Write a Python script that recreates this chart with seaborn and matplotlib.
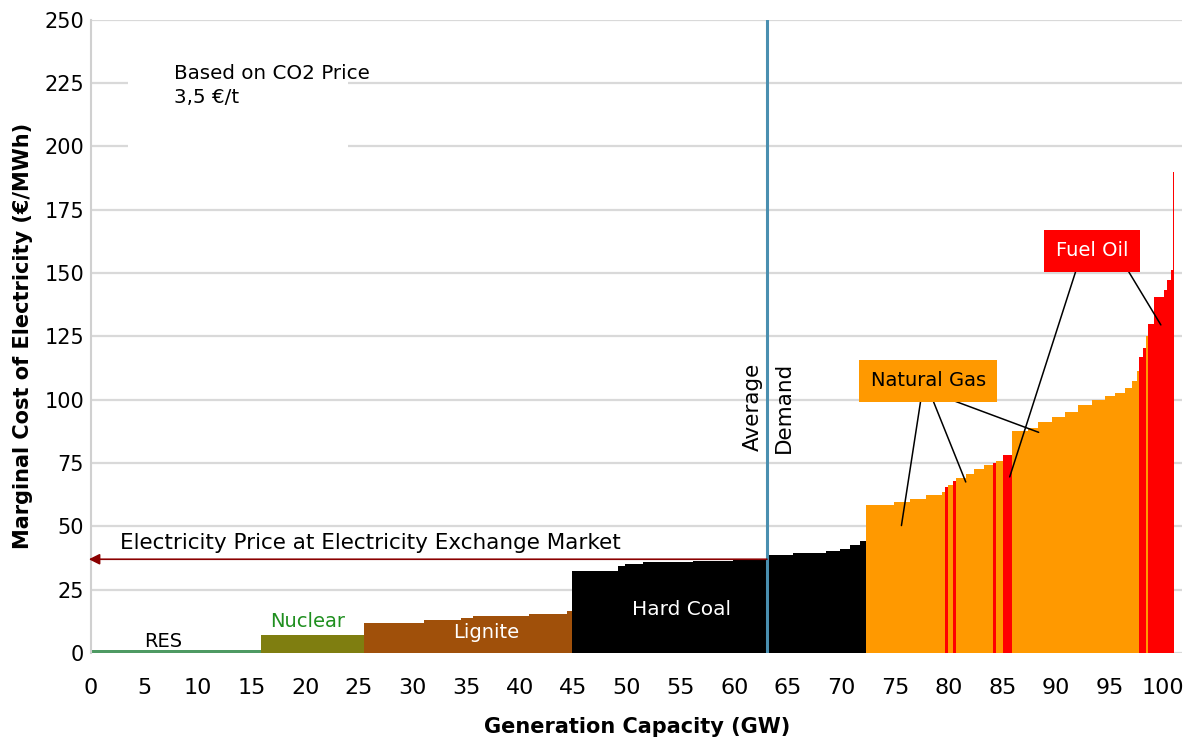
import matplotlib
matplotlib.use("Agg")
import matplotlib.pyplot as plt
from matplotlib.patches import Rectangle
import seaborn as sns
import pandas as pd

# merit order blocks: right edge of each block (GW), marginal cost (EUR/MWh), fuel
block_end = [
    15.9,
    25.5,
    31.1, 34.5, 35.6, 40.9, 44.4, 44.9,
    49.2, 49.8, 51.5, 56.2, 59.9, 63.05, 65.5, 68.6, 69.9, 70.8, 71.7, 72.3,
    74.9, 76.4, 77.9, 79.4, 79.7, 79.9, 80.4, 80.7, 81.6, 82.4, 83.3, 84.1,
    84.4, 85.05, 85.9, 87.4, 88.3, 89.6, 90.9, 92.1, 93.4, 94.6, 95.5, 96.5,
    97.1, 97.6, 97.8, 98.1, 98.4, 98.6, 99.2, 100.1, 100.4, 100.7, 100.9, 101.02,
]
block_cost = [
    1.0,
    7.2,
    12.0, 12.9, 13.7, 14.6, 15.3, 16.6,
    32.2, 34.3, 35.0, 35.8, 36.5, 37.0, 38.6, 39.6, 40.3, 41.2, 42.8, 44.3,
    58.5, 59.5, 60.8, 62.2, 63.5, 65.5, 66.5, 68.0, 69.0, 70.5, 72.5, 74.2,
    75.0, 75.8, 78.0, 87.5, 89.0, 91.2, 93.2, 95.3, 98.0, 100.0, 101.4, 102.7,
    104.7, 107.4, 111.4, 116.7, 120.5, 125.0, 130.0, 140.5, 143.2, 147.2, 151.2, 190.0,
]
block_fuel = (
    ["RES"]
    + ["Nuclear"]
    + ["Lignite"] * 6
    + ["Hard Coal"] * 12
    + ["Gas", "Gas", "Gas", "Gas", "Gas", "Oil", "Gas", "Oil", "Gas", "Gas", "Gas", "Gas",
       "Oil", "Gas", "Oil", "Gas", "Gas", "Gas", "Gas", "Gas", "Gas", "Gas", "Gas", "Gas",
       "Gas", "Gas", "Gas", "Oil", "Oil", "Gas", "Oil", "Oil", "Oil", "Oil", "Oil", "Oil"]
)

average_demand = 63.05
exchange_price = 37.0

fuel_colors = {
    "RES": "#4e9a63",
    "Nuclear": "#7f7e10",
    "Lignite": "#a0500a",
    "Hard Coal": "#000000",
    "Gas": "#ff9900",
    "Oil": "#ff0000",
}

edges = [0.0] + block_end
mids = [(a + b) / 2 for a, b in zip(edges[:-1], edges[1:])]
df = pd.DataFrame({"capacity": mids, "cost": block_cost, "fuel": block_fuel})

sns.set_style("white")
plt.rcParams["font.family"] = ["DejaVu Sans"]
plt.rcParams["text.color"] = "black"
plt.rcParams["axes.labelcolor"] = "black"
plt.rcParams["xtick.labelcolor"] = "black"
plt.rcParams["ytick.labelcolor"] = "black"

fig = plt.figure(figsize=(11.94, 7.39), dpi=100)
ax = fig.add_axes([0.0762, 0.1164, 0.914, 0.857])

ax.set_axisbelow(True)
ax.yaxis.grid(True, color="#d9d9d9", linewidth=1.6)
ax.xaxis.grid(False)

sns.histplot(
    data=df, x="capacity", weights="cost", hue="fuel", bins=edges,
    hue_order=list(fuel_colors), palette=fuel_colors, multiple="layer",
    element="step", fill=True, alpha=1, linewidth=0, legend=False, ax=ax,
)

# white patch behind the CO2 note (hides gridlines there)
ax.add_patch(Rectangle((3.45, 188), 20.5, 46, facecolor="white", edgecolor="none", zorder=1.5))

ax.axvline(average_demand, color="#4a8fb0", linewidth=2.2, zorder=4)
ax.annotate("", xy=(-0.2, exchange_price), xytext=(average_demand, exchange_price),
            arrowprops=dict(arrowstyle="-|>", color="#8b0000", lw=1.2, mutation_scale=16,
                            shrinkA=0, shrinkB=0),
            annotation_clip=False, zorder=5)

fs = 14
ax.text(2.7, 43.5, "Electricity Price at Electricity Exchange Market", fontsize=15.5, va="center", ha="left")
ax.text(7.7, 224, "Based on CO2 Price\n3,5 €/t", fontsize=14.3, va="center", ha="left", linespacing=1.3)
ax.text(6.7, 4.7, "RES", fontsize=fs, ha="center", va="center")
ax.text(20.2, 12.6, "Nuclear", fontsize=fs, ha="center", va="center", color="#1f8f1f")
ax.text(36.9, 7.9, "Lignite", fontsize=fs, ha="center", va="center", color="white")
ax.text(55.1, 17, "Hard Coal", fontsize=14.5, ha="center", va="center", color="white")
ax.text(61.7, 97, "Average", fontsize=15.5, ha="center", va="center", rotation=90)
ax.text(64.6, 97, "Demand", fontsize=15.5, ha="center", va="center", rotation=90)

ax.text(78.1, 107.4, "Natural Gas", fontsize=fs, ha="center", va="center", zorder=6,
        bbox=dict(boxstyle="square,pad=0.6", facecolor="#ff9900", edgecolor="none"))
ax.text(93.4, 158.8, "Fuel Oil", fontsize=fs, ha="center", va="center", color="white", zorder=6,
        bbox=dict(boxstyle="square,pad=0.6", facecolor="#ff0000", edgecolor="none"))

leader = dict(arrowstyle="-", color="black", lw=1.1, shrinkA=0, shrinkB=0)
for start, end in [((77.4, 99.7), (75.6, 50.3)),
                   ((78.6, 99.1), (81.6, 67.5)),
                   ((80.4, 99.7), (88.4, 87.1)),
                   ((91.9, 151.2), (85.7, 69.5)),
                   ((96.7, 151.2), (99.8, 129.5))]:
    ax.annotate("", xy=end, xytext=start, arrowprops=leader, zorder=5)

ax.set_xlim(0, 101.8)
ax.set_ylim(0, 250)
ax.set_xticks(range(0, 101, 5))
ax.set_yticks(range(0, 251, 25))
ax.tick_params(axis="x", length=6, color="#cccccc", pad=12, labelsize=16)
ax.tick_params(axis="y", length=0, pad=5, labelsize=15)
ax.set_xlabel("Generation Capacity (GW)", fontsize=15, fontweight="bold", labelpad=14)
ax.set_ylabel("Marginal Cost of Electricity (€/MWh)", fontsize=15, fontweight="bold", labelpad=8)

for side in ["top", "right", "bottom"]:
    ax.spines[side].set_visible(False)
ax.spines["left"].set_color("#d0d0d0")
ax.spines["left"].set_linewidth(1.5)

fig.savefig("out.png", dpi=100)
